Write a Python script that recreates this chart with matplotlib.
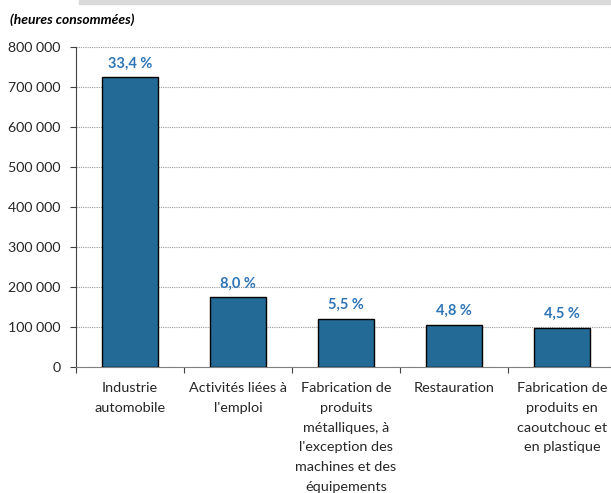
import matplotlib.pyplot as plt
import matplotlib as mpl
from matplotlib.patches import Rectangle
from matplotlib.ticker import FuncFormatter

# ==================== 数据 ====================
categories = [
    "Industrie\nautomobile",
    "Activités liées à\nl'emploi",
    "Fabrication de\nproduits\nmétalliques, à\nl'exception des\nmachines et des\néquipements",
    "Restauration",
    "Fabrication de\nproduits en\ncaoutchouc et\nen plastique",
]
heures = [725000, 173500, 119000, 104000, 96500]
parts = ["33,4 %", "8,0 %", "5,5 %", "4,8 %", "4,5 %"]
y_ticks = [0, 100000, 200000, 300000, 400000, 500000, 600000, 700000, 800000]

# ==================== 样式 ====================
mpl.rcParams['font.family'] = ['Lato', 'DejaVu Sans']
bar_color = "#236A97"
label_color = "#2E75B6"
text_color = "#262626"

fig = plt.figure(figsize=(6.11, 4.93), dpi=100)
# axes extends past the right edge like the cropped original
ax = fig.add_axes([76 / 611, (493 - 366.7) / 493, 540 / 611, (366.7 - 47.3) / 493])

x = list(range(len(categories)))
ax.bar(x, heures, width=0.51, color=bar_color, edgecolor='black', linewidth=1.0, zorder=3)

for xi, h, p in zip(x, heures, parts):
    ax.annotate(p, (xi, h), xytext=(0, 5), textcoords='offset points',
                ha='center', va='bottom', fontsize=10.5, fontweight='bold',
                color=label_color)

ax.set_xlim(-0.5, len(categories) - 0.5)
ax.set_ylim(0, 800000)
ax.set_yticks(y_ticks)
ax.yaxis.set_major_formatter(FuncFormatter(lambda v, _: f"{int(v):,}".replace(",", " ")))
ax.grid(axis='y', linestyle=(0, (1, 1)), color='#9a9a9a', linewidth=0.8, zorder=0)

ax.set_xticks([i + 0.5 for i in range(-1, len(categories))])
ax.set_xticklabels([])
ax.set_xticks(x, minor=True)
ax.set_xticklabels(categories, minor=True, fontsize=10.4, color=text_color,
                   linespacing=1.78, va='top')
ax.tick_params(axis='x', which='minor', length=0, pad=11)
ax.tick_params(axis='x', which='major', length=4, direction='out', color='#404040')
ax.tick_params(axis='y', length=4, direction='out', color='#404040', labelsize=10.2,
               labelcolor=text_color, pad=7)

for s in ['top', 'right']:
    ax.spines[s].set_visible(False)
ax.spines['left'].set_color('#404040')
ax.spines['bottom'].set_color('#808080')

fig.text(10 / 611, 1 - 20 / 493, "(heures consommées)", fontsize=10,
         fontweight='bold', fontstyle='italic', color='black', va='center')

fig.patches.append(Rectangle((79 / 611, 1 - 4 / 493), 1, 4 / 493,
                             transform=fig.transFigure, color='#d9d9d9', zorder=0))

fig.savefig('out.png', dpi=100)
